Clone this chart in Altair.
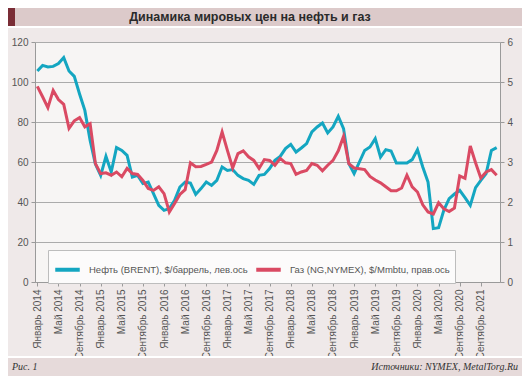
import json
import altair as alt
import pandas as pd

# ---- data ----
idx = list(range(88))
brent = [105.5, 108.3, 107.5, 107.8, 109.2, 112.2, 105.5, 102.8, 94.0, 85.8,
         70.8, 59.0, 53.3, 62.8, 55.0, 67.2, 65.8, 63.3, 52.5, 53.3,
         49.2, 50.0, 44.2, 38.3, 35.8, 36.7, 40.8, 47.5, 50.0, 49.5,
         43.8, 46.7, 50.0, 48.3, 50.8, 57.5, 55.8, 56.2, 53.3, 51.7,
         50.8, 48.8, 53.3, 53.8, 56.7, 60.8, 62.8, 66.7, 68.8, 65.0,
         67.0, 69.2, 75.0, 77.5, 79.5, 74.5, 77.5, 82.8, 76.7, 59.2,
         54.2, 60.0, 65.8, 67.5, 71.7, 62.5, 66.2, 65.5, 59.5, 59.5,
         59.5, 61.2, 66.2, 57.5, 50.0, 26.7, 27.2, 36.0, 41.7, 44.0,
         45.8, 42.2, 38.3, 47.2, 50.8, 54.2, 65.8, 67.2]
gas = [4.89, 4.63, 4.36, 4.79, 4.56, 4.44, 3.84, 4.03, 4.11, 3.88,
       3.96, 2.96, 2.71, 2.73, 2.67, 2.75, 2.63, 2.84, 2.71, 2.69,
       2.54, 2.34, 2.29, 2.38, 2.21, 1.75, 1.96, 2.19, 2.31, 2.98,
       2.88, 2.89, 2.94, 3.00, 3.29, 3.75, 3.29, 2.85, 3.21, 3.28,
       3.13, 3.04, 2.84, 3.06, 3.04, 2.92, 3.09, 2.98, 2.96, 2.69,
       2.75, 2.79, 2.96, 2.92, 2.78, 2.92, 3.04, 3.28, 3.64, 2.96,
       2.85, 2.83, 2.81, 2.64, 2.55, 2.48, 2.38, 2.28, 2.28, 2.35,
       2.67, 2.38, 2.25, 1.93, 1.75, 1.70, 1.98, 1.83, 1.76, 1.85,
       2.65, 2.59, 3.40, 2.98, 2.60, 2.75, 2.81, 2.67]
tick_idx = list(range(0, 88, 4))
tick_labels = ["Январь 2014", "Май 2014", "Сентябрь 2014",
               "Январь 2015", "Май 2015", "Сентябрь 2015",
               "Январь 2016", "Май 2016", "Сентябрь 2016",
               "Январь 2017", "Май 2017", "Сентябрь 2017",
               "Январь 2018", "Май 2018", "Сентябрь 2018",
               "Январь 2019", "Май 2019", "Сентябрь 2019",
               "Январь 2020", "Май 2020", "Сентябрь 2020",
               "Сентябрь 2021"]
series_names = ["Нефть (BRENT), $/баррель, лев.ось",
                "Газ (NG,NYMEX), $/Mmbtu, прав.ось"]
left_ticks = [0, 20, 40, 60, 80, 100, 120]
right_ticks = [0, 1, 2, 3, 4, 5, 6]
title_text = "Динамика мировых цен на нефть и газ"
fig_text = "Рис. 1"
source_text = "Источники: NYMEX, MetalTorg.Ru"

colors = ["#14a6c1", "#da4a63"]

df_oil = pd.DataFrame({"i": idx, "v": brent, "s": series_names[0]})
df_gas = pd.DataFrame({"i": idx, "v": gas, "s": series_names[1]})

# ---- layout ----
W, H = 465, 240
PL, PT = 27, 34
TOTW, TOTH = 514, 368
PR = TOTW - PL - W
PB = TOTH - PT - H
FONT = "Liberation Sans"
LBL = "#555555"
AX = "#9a9a9a"

xscale = alt.Scale(domain=[-0.44, 87.63], nice=False, zero=False)
label_expr = json.dumps(tick_labels, ensure_ascii=False) + "[round(datum.value / 4)]"
xaxis = alt.Axis(values=tick_idx, labelExpr=label_expr, labelAngle=-90,
                 labelAlign="right", labelBaseline="middle", grid=False,
                 tickSize=4, labelPadding=3, labelFontSize=10, labelColor=LBL,
                 labelFont=FONT, domainColor=AX, tickColor=AX,
                 labelOverlap=False, labelFlush=False, title=None)

color = alt.Color(
    "s:N",
    scale=alt.Scale(domain=series_names, range=colors),
    legend=alt.Legend(orient="none", legendX=13, legendY=208,
                      direction="horizontal", title=None, symbolType="stroke",
                      symbolStrokeWidth=4, symbolSize=600,
                      fillColor="#fcfbfb", strokeColor="#bdbdbd", padding=5,
                      labelFontSize=9.5, labelColor=LBL, labelFont=FONT,
                      columnPadding=0, labelLimit=300, labelOffset=7),
)

oil = alt.Chart(df_oil).mark_line(strokeWidth=3).encode(
    x=alt.X("i:Q", scale=xscale, axis=xaxis),
    y=alt.Y("v:Q", scale=alt.Scale(domain=[0, 120], nice=False),
            axis=alt.Axis(values=left_ticks, orient="left", grid=True,
                          gridColor="#ababab", gridWidth=1, tickSize=4,
                          labelPadding=3, labelFontSize=10, labelColor=LBL,
                          labelFont=FONT, domainColor=AX, tickColor=AX,
                          title=None)),
    color=color,
)
gasl = alt.Chart(df_gas).mark_line(strokeWidth=3).encode(
    x=alt.X("i:Q", scale=xscale, axis=xaxis),
    y=alt.Y("v:Q", scale=alt.Scale(domain=[0, 6], nice=False),
            axis=alt.Axis(values=right_ticks, orient="right", grid=False,
                          tickSize=4, labelPadding=3, labelFontSize=10,
                          labelColor=LBL, labelFont=FONT, domainColor=AX,
                          tickColor=AX, title=None)),
    color=color,
)

one = pd.DataFrame({"a": [0]})


def box(x1, x2, y1, y2, fill):
    return alt.Chart(one).mark_rect(color=fill).encode(
        x=alt.value(x1), x2=alt.value(x2), y=alt.value(y1), y2=alt.value(y2))


deco = [
    box(-PL, TOTW - PL, -PT, -PT + 18, "#dccaca"),
    box(-PL, -PL + 7, -PT, -PT + 18, "#7a2d36"),
    box(-PL, TOTW - PL, -PT + 18, -PT + 20, "#ffffff"),
    box(-PL, TOTW - PL, TOTH - PT - 20, TOTH - PT - 18, "#ffffff"),
    box(-PL, TOTW - PL, TOTH - PT - 18, TOTH - PT, "#e6dada"),
]

title = alt.Chart(pd.DataFrame({"t": [title_text]})).mark_text(
    font=FONT, fontSize=12.5, fontWeight="bold", color="#2a2a2a",
    align="center", baseline="middle").encode(
    text="t:N", x=alt.value(215), y=alt.value(-PT + 9))
fig = alt.Chart(pd.DataFrame({"t": [fig_text]})).mark_text(
    font="Liberation Serif", fontSize=10, fontStyle="italic", color="#333",
    align="left", baseline="middle").encode(
    text="t:N", x=alt.value(-PL + 4), y=alt.value(TOTH - PT - 9))
src = alt.Chart(pd.DataFrame({"t": [source_text]})).mark_text(
    font="Liberation Serif", fontSize=10, fontStyle="italic", color="#333",
    align="right", baseline="middle").encode(
    text="t:N", x=alt.value(TOTW - PL - 4), y=alt.value(TOTH - PT - 9))

chart = alt.layer(*deco, title, fig, src, oil, gasl).resolve_scale(
    y="independent"
).properties(
    width=W, height=H,
    autosize=alt.AutoSizeParams(type="none"),
    padding={"left": PL, "top": PT, "right": PR, "bottom": PB},
).configure(background="#efe9e9", font=FONT).configure_view(
    fill="#f7f5f4", strokeWidth=0)

chart.save("out.html", embed_options={"renderer": "svg", "actions": False})
